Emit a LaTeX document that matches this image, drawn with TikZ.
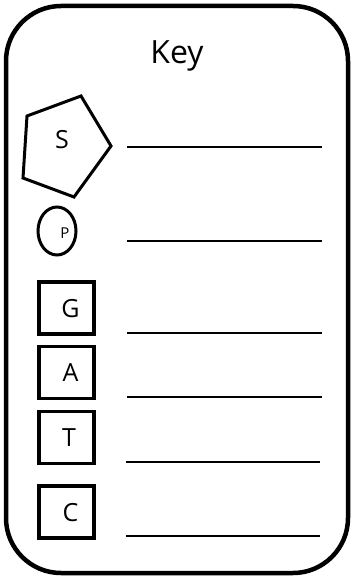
\documentclass[tikz,border=0pt]{standalone}
\usepackage{fontspec}
\setmainfont{Open Sans}
\tikzset{
  letterbox/.style={draw,line width=3.5pt,minimum width=55pt,minimum height=52pt,inner sep=0pt,font=\fontsize{25}{27}\selectfont,text depth=-6pt,align=right},
  blank/.style={line width=2.3pt}
}
\begin{document}
\begin{tikzpicture}[x=1pt,y=-1pt,line width=3pt]
\useasboundingbox (0,0) rectangle (351,577);
\draw[line width=4.5pt,rounded corners=55pt] (6,6) rectangle (348,573);
\node[font=\fontsize{32}{34}\selectfont] (key) at (177,56) {Key};
\draw (81,96)--(111,146)--(74,197)--(23,178)--(27,116)--cycle;
\node[font=\fontsize{25}{27}\selectfont] (sugar) at (62,140) {S};
\draw (57,231) ellipse [x radius=19pt,y radius=24pt];
\node[font=\fontsize{15}{17}\selectfont] (phos) at (65,233) {P};
\node[letterbox] (g) at (66.5,308) {\hspace{8pt}G};
\node[letterbox] (a) at (66.5,372.5) {\hspace{8pt}A};
\node[letterbox] (t) at (66.5,437.5) {\hspace{5pt}T};
\node[letterbox] (c) at (66.5,512) {\hspace{8pt}C};
\draw[blank] (127,147)--(322,147); \draw[blank] (127,241)--(322,241);
\draw[blank] (127,333)--(322,333); \draw[blank] (127,397)--(322,397);
\draw[blank] (126,462)--(320,462); \draw[blank] (126,536)--(320,536);
\end{tikzpicture}
\end{document}
